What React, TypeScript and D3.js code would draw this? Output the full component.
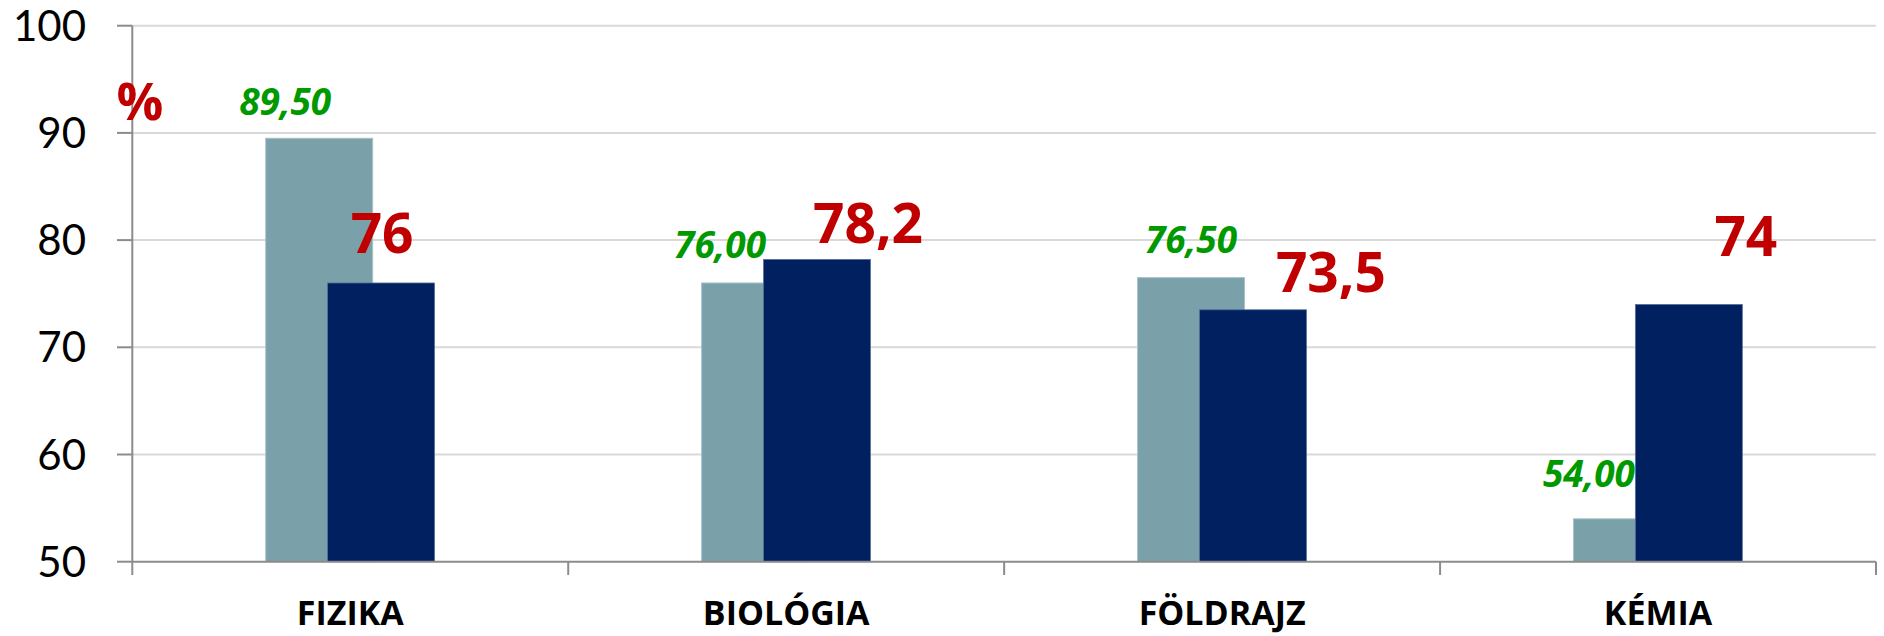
import React from 'react';
import * as d3 from 'd3';

const categories = ['FIZIKA', 'BIOLÓGIA', 'FÖLDRAJZ', 'KÉMIA'];
const seriesLight = [89.5, 76.0, 76.5, 54.0];
const seriesDark = [76, 78.2, 73.5, 74];
const lightLabels = ['89,50', '76,00', '76,50', '54,00'];
const darkLabels = ['76', '78,2', '73,5', '74'];
const yTicks = [50, 60, 70, 80, 90, 100];

// manual label nudges (dx from bar centre, dy from bar top), as placed in the original
const lightNudge: [number, number][] = [[-34, -23], [-35, -25], [0, -25], [-38, -32]];
const darkNudge: [number, number][] = [[1, -30], [51, -16], [78, -18], [57, -48]];

const W = 1884;
const H = 636;
const font = 'Lato, "Open Sans", sans-serif';
const boldFont = '"Open Sans", Lato, sans-serif';

export default function App() {
  const x = d3.scaleBand<string>().domain(categories).range([132.3, 1876]).padding(0);
  const y = d3.scaleLinear().domain([50, 100]).range([561.7, 25.7]);
  const bw = x.bandwidth();
  const barW = bw * 0.2454;
  const lightOff = bw * 0.306;
  const darkOff = bw * 0.448;
  const [x0, x1] = x.range();
  const bounds = categories.map((c) => x(c) as number).concat([x1]);

  return (
    <svg width={W} height={H} style={{ position: 'absolute', left: 0, top: 0, background: '#fff' }}>
      {/* gridlines */}
      {yTicks.slice(1).map((t) => (
        <line key={t} x1={x0} x2={x1} y1={y(t)} y2={y(t)} stroke="#d9d9d9" strokeWidth={2} />
      ))}
      {/* bars */}
      {categories.map((c, i) => {
        const bx = x(c) as number;
        return (
          <g key={c}>
            <rect x={bx + lightOff} y={y(seriesLight[i])} width={barW} height={y(50) - y(seriesLight[i])}
              fill="#7aa1aa" stroke="#a9c3c9" strokeWidth={1} />
            <rect x={bx + darkOff} y={y(seriesDark[i])} width={barW} height={y(50) - y(seriesDark[i])}
              fill="#002060" stroke="#5a6f99" strokeWidth={0.8} />
          </g>
        );
      })}
      {/* axes */}
      <line x1={x0} x2={x0} y1={y(100)} y2={575} stroke="#8c8c8c" strokeWidth={2} />
      <line x1={x0} x2={x1} y1={y(50)} y2={y(50)} stroke="#8c8c8c" strokeWidth={2} />
      {yTicks.map((t) => (
        <g key={t}>
          <line x1={117} x2={x0} y1={y(t)} y2={y(t)} stroke="#8c8c8c" strokeWidth={2} />
          <text x={86} y={y(t)} dy="0.36em" textAnchor="end" fontFamily={font} fontSize={42} fill="#000">
            {t}
          </text>
        </g>
      ))}
      {bounds.slice(1).map((bx, i) => (
        <line key={i} x1={bx} x2={bx} y1={y(50)} y2={575} stroke="#8c8c8c" strokeWidth={2} />
      ))}
      {/* category labels */}
      {categories.map((c) => (
        <text key={c} x={(x(c) as number) + bw / 2} y={625} textAnchor="middle" fontFamily={boldFont}
          fontWeight="bold" fontSize={34} fill="#000">
          {c}
        </text>
      ))}
      {/* value labels */}
      {categories.map((c, i) => {
        const bx = x(c) as number;
        const lc = bx + lightOff + barW / 2;
        const dc = bx + darkOff + barW / 2;
        return (
          <g key={c}>
            <text x={lc + lightNudge[i][0]} y={y(seriesLight[i]) + lightNudge[i][1]} textAnchor="middle"
              fontFamily={boldFont} fontWeight="bold" fontStyle="italic" fontSize={37} fill="#009900">
              {lightLabels[i]}
            </text>
            <text x={dc + darkNudge[i][0]} y={y(seriesDark[i]) + darkNudge[i][1]} textAnchor="middle"
              fontFamily={boldFont} fontWeight="bold" fontSize={55} fill="#c00000">
              {darkLabels[i]}
            </text>
          </g>
        );
      })}
      {/* unit */}
      <text x={140} y={120} textAnchor="middle" fontFamily={boldFont} fontWeight="bold" fontSize={52} fill="#c00000">
        %
      </text>
    </svg>
  );
}
